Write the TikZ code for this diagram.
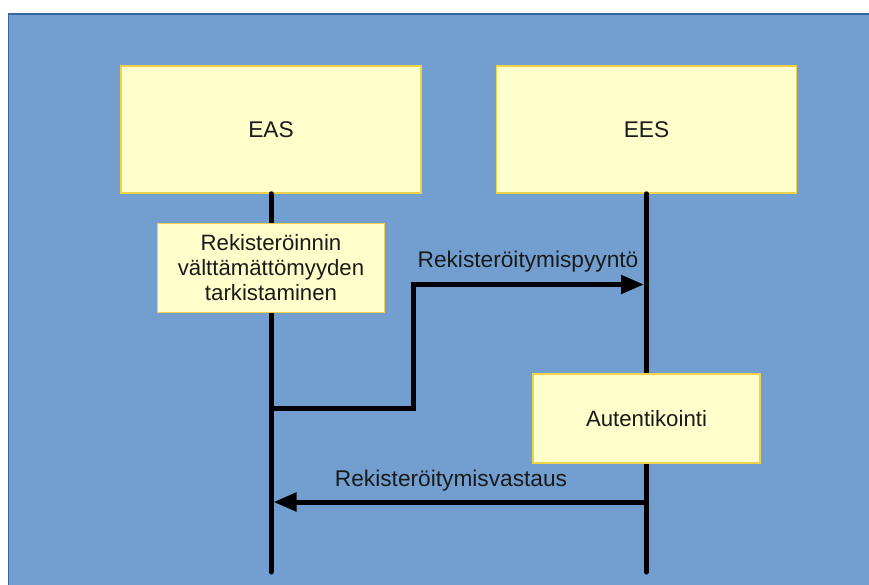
\documentclass[tikz,border=0pt]{standalone}
\usepackage{fontspec}
\setmainfont{Liberation Sans}
\usetikzlibrary{arrows.meta}
\definecolor{bgblue}{HTML}{729FCF}
\definecolor{bgborder}{HTML}{3465A4}
\definecolor{boxfill}{HTML}{FFFFCC}
\definecolor{boxborder}{HTML}{EFD24A}
\definecolor{txt}{HTML}{1A1A1A}
\tikzset{
  actor/.style={draw=boxborder, fill=boxfill, line width=1.5pt, minimum width=300pt, minimum height=127pt, inner sep=0pt, text=txt, font=\fontsize{22.7}{25}\selectfont},
  activity/.style={draw=boxborder, fill=boxfill, line width=1.5pt, minimum width=227pt, minimum height=89pt, inner sep=0pt, text=txt, align=center, font=\fontsize{22.2}{25}\selectfont},
  lifeline/.style={line width=5pt, line cap=round, black},
  msg/.style={line width=5pt, black, -{Triangle[length=23pt,width=18pt]}},
  msglabel/.style={text=txt, font=\fontsize{22.7}{25}\selectfont, inner sep=0pt}
}
\begin{document}
\begin{tikzpicture}[x=1pt,y=-1pt]
\useasboundingbox (0,0) rectangle (869,584);
\draw[fill=bgblue, draw=bgborder, line width=1.2pt] (8.5,14) rectangle (880,600);
% actors
\node[actor] (eas) at (271,129.5) {EAS};
\node[actor] (ees) at (646.5,129.5) {EES};
\coordinate (easEnd) at (271,572);
\coordinate (eesEnd) at (646.5,572);
\draw[lifeline] (eas.south) -- (easEnd);
\draw[lifeline] (ees.south) -- (eesEnd);
% activity boxes
\node[activity] (check) at (271,268) {Rekisteröinnin\\välttämättömyyden\\tarkistaminen};
\node[activity] (auth) at (646.5,418.5) {Autentikointi};
% messages
\coordinate (reqStart) at (271,408);
\coordinate (reqBend1) at (413,408);
\coordinate (reqBend2) at (413,284.5);
\coordinate (reqEnd) at (644,284.5);
\draw[msg, line join=miter] (reqStart) -- (reqBend1) -- (reqBend2) -- (reqEnd);
\node[msglabel] (reqLabel) at (528,262) {Rekisteröitymispyyntö};
\coordinate (respStart) at (646.5,502);
\coordinate (respEnd) at (273.5,502);
\draw[msg] (respStart) -- (respEnd);
\node[msglabel] (respLabel) at (451,481) {Rekisteröitymisvastaus};
\end{tikzpicture}
\end{document}
